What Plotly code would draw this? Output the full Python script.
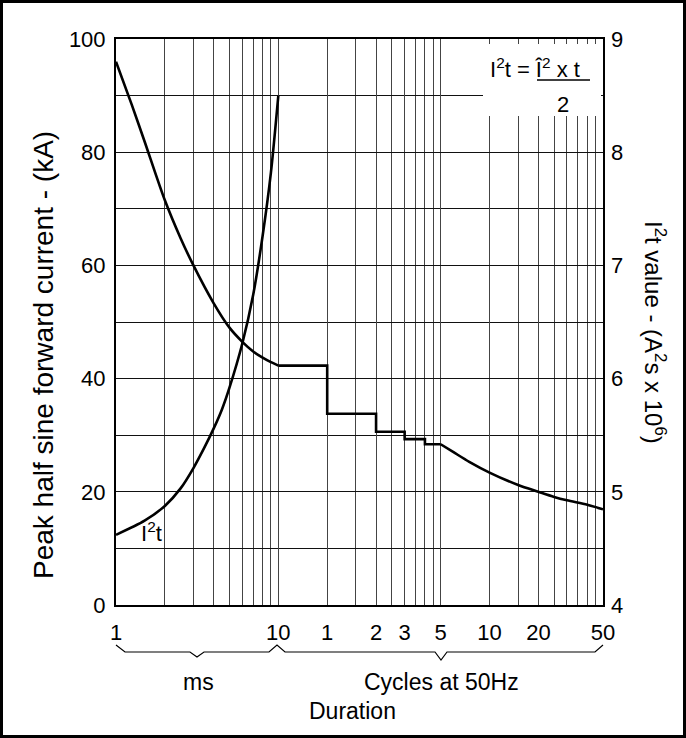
import plotly.graph_objects as go

# ---------------- data ----------------
# Peak half-sine forward current, millisecond range (t in ms, I in kA)
ms_time = [1, 1.25, 1.5, 2, 2.5, 3, 4, 5, 6, 7, 8, 9, 10]
ms_current = [96.0, 88.4, 81.9, 71.5, 64.8, 60.0, 53.3, 49.0, 46.5, 44.8, 43.7, 42.9, 42.3]

# Peak current, stepped part (duration in cycles at 50 Hz, I in kA)
step_cycles = [0.5, 1, 1, 2, 2, 3, 3, 4, 4, 5]
step_current = [42.3, 42.3, 33.8, 33.8, 30.6, 30.6, 29.3, 29.3, 28.4, 28.4]

# Peak current, smooth tail (cycles at 50 Hz, kA)
tail_cycles = [5, 6, 7.5, 10, 15, 20, 25, 30, 40, 50]
tail_current = [28.4, 27.0, 25.3, 23.4, 21.2, 20.0, 19.1, 18.5, 17.7, 16.9]

# I2t value (A2s x 10^6) in the millisecond range
i2t_time = [1, 1.5, 2, 2.5, 3, 3.5, 4, 4.5, 5, 6, 7, 8, 9, 10]
i2t_value = [4.62, 4.745, 4.875, 5.03, 5.21, 5.39, 5.56, 5.73, 5.92, 6.31, 6.74, 7.26, 7.82, 8.50]

# Axis ticks
x_tick_ms = [1, 10, 20, 40, 60, 100, 200, 400, 1000]
x_tick_text = ["1", "10", "1", "2", "3", "5", "10", "20", "50"]
x_minor_ms = [m * d for d in (1, 10, 100) for m in range(2, 10)] + [10, 100]
left_ticks = [0, 20, 40, 60, 80, 100]
left_minor = [10, 30, 50, 70, 90]
right_ticks = [4, 5, 6, 7, 8, 9]

MS_PER_CYCLE = 20  # 50 Hz

# ---------------- layout helpers ----------------
W, H = 686, 738
L, R, T, B = 116, 603, 39, 605


def px(x):
    return (x - L) / (R - L)


def py(y):
    return (B - y) / (B - T)


FONT = "Liberation Sans, Arial, sans-serif"
LINE = dict(color="black", width=2.6)

fig = go.Figure()
fig.add_trace(go.Scatter(x=ms_time, y=ms_current, mode="lines",
                         line=dict(LINE, shape="spline", smoothing=0.8),
                         hoverinfo="skip", showlegend=False))
fig.add_trace(go.Scatter(x=[c * MS_PER_CYCLE for c in step_cycles], y=step_current,
                         mode="lines", line=LINE, hoverinfo="skip", showlegend=False))
fig.add_trace(go.Scatter(x=[c * MS_PER_CYCLE for c in tail_cycles], y=tail_current,
                         mode="lines", line=dict(LINE, shape="spline", smoothing=0.8),
                         hoverinfo="skip", showlegend=False))
fig.add_trace(go.Scatter(x=i2t_time, y=i2t_value, mode="lines", yaxis="y2",
                         line=dict(LINE, shape="spline", smoothing=0.8),
                         hoverinfo="skip", showlegend=False))

fig.update_layout(
    width=W, height=H,
    margin=dict(l=L, r=W - R, t=T, b=H - B, pad=0),
    paper_bgcolor="white", plot_bgcolor="white",
    font=dict(family=FONT, size=22, color="black"),
    xaxis=dict(type="log", range=[0, 3], tickmode="array",
               tickvals=x_tick_ms, ticktext=x_tick_text,
               showgrid=True, gridcolor="#444", gridwidth=1,
               minor=dict(tickmode="array", tickvals=x_minor_ms, showgrid=True,
                          gridcolor="#444", gridwidth=1, ticks=""),
               showline=True, linecolor="black", linewidth=2, mirror=True,
               ticks="", ticklabelstandoff=7, zeroline=False,
               tickfont=dict(size=22)),
    yaxis=dict(range=[0, 100], tickmode="array", tickvals=left_ticks,
               showgrid=True, gridcolor="#111", gridwidth=1,
               minor=dict(tickmode="array", tickvals=left_minor, showgrid=True,
                          gridcolor="#111", gridwidth=1, ticks=""),
               showline=True, linecolor="black", linewidth=2, mirror=True,
               ticks="", ticklabelstandoff=4, zeroline=False,
               tickfont=dict(size=22)),
    yaxis2=dict(range=[4, 9], overlaying="y", side="right", tickmode="array",
                tickvals=right_ticks, showgrid=False, zeroline=False,
                showline=False, ticks="", ticklabelstandoff=7,
                tickfont=dict(size=22)),
)

shapes = []
# white panel behind the formula
shapes.append(dict(type="rect", xref="paper", yref="paper",
                   x0=px(483), x1=px(601), y0=py(116), y1=py(44),
                   fillcolor="white", line=dict(width=0), layer="above"))
# fraction bar
shapes.append(dict(type="line", xref="paper", yref="paper",
                   x0=px(537), x1=px(590), y0=py(80), y1=py(80),
                   line=dict(color="black", width=1.5), layer="above"))
# braces under the axis
brace_pts = [(116, 645), (125, 652), (190, 652), (197, 657), (204, 652),
             (269, 652), (277, 645), (285, 652), (435, 652), (441, 660),
             (447, 652), (595, 652), (603, 645)]
path = "M " + " L ".join(f"{px(x):.5f},{py(y):.5f}" for x, y in brace_pts)
shapes.append(dict(type="path", xref="paper", yref="paper", path=path,
                   line=dict(color="black", width=1.2)))
# outer frame
shapes.append(dict(type="rect", xref="paper", yref="paper",
                   x0=px(1.5), x1=px(684.5), y0=py(736.5), y1=py(1.5),
                   line=dict(color="black", width=3), fillcolor="rgba(0,0,0,0)"))
fig.update_layout(shapes=shapes)

ann = [
    dict(text="I<sup>2</sup>t = Î<sup>2</sup> x t", x=px(535), y=py(68), size=22),
    dict(text="2", x=px(563), y=py(104), size=22),
    dict(text="I<sup>2</sup>t", x=px(151), y=py(532), size=22),
    dict(text="ms", x=px(198), y=py(682), size=23),
    dict(text="Cycles at 50Hz", x=px(441), y=py(682), size=23),
    dict(text="Duration", x=px(352), y=py(711), size=23),
    dict(text="Peak half sine forward current - (kA)",
         x=px(43), y=py(355), textangle=-90, size=28),
    dict(text="I<sup>2</sup>t value - (A<sup>2</sup>s x 10<sup>6</sup>)",
         x=px(655), y=py(332), textangle=90, size=24),
]
for a in ann:
    size = a.pop("size")
    a.update(xref="paper", yref="paper", showarrow=False,
             xanchor="center", yanchor="middle",
             font=dict(family=FONT, size=size, color="black"))
fig.update_layout(annotations=ann)

fig.write_html(
    "out.html",
    config={"displayModeBar": False},
    post_script="document.body.style.margin='0';document.body.style.padding='0';"
                "document.documentElement.style.overflow='hidden';",
)
